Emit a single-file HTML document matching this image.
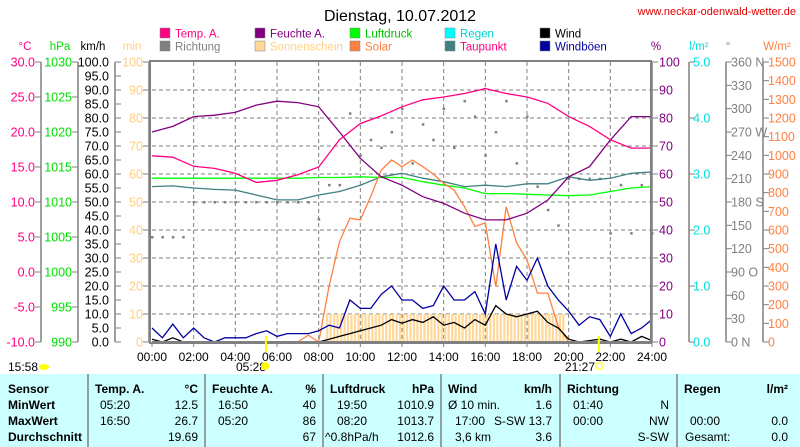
<!DOCTYPE html>
<html><head><meta charset="utf-8"><style>
body{margin:0;background:#fff;width:800px;height:447px;overflow:hidden;font-family:"Liberation Sans",sans-serif}
svg{position:absolute;left:0;top:0}
</style></head><body>
<svg id="c" width="800" height="447" xmlns="http://www.w3.org/2000/svg" font-family="Liberation Sans, sans-serif">
<text x="400" y="21" font-size="16" text-anchor="middle">Dienstag, 10.07.2012</text>
<text x="796" y="15" font-size="11" fill="#e00000" text-anchor="end">www.neckar-odenwald-wetter.de</text>
<rect x="0" y="374" width="800" height="73" fill="#ccffff"/>
<g id="grid"></g><g id="series"></g><g id="axes"></g><g id="legend"></g><g id="table" font-size="12"></g>
</svg>
<script>
// ---- data (hourly unless noted) ----
const hours = [0,1,2,3,4,5,6,7,8,9,10,11,12,13,14,15,16,17,18,19,20,21,22,23,24];
const tempA = [16.6,16.4,15.1,14.8,14.1,12.8,13.1,13.9,15.0,18.9,21.2,22.3,23.6,24.6,25.0,25.5,26.2,25.5,25.0,24.1,22.2,20.8,18.9,17.7,17.7];
const humidity = [75,77,80.5,81,82,84.6,86,85.5,84,75,65.6,59,56,51.9,49.5,46,43.6,43.6,46,50.7,59,62.6,72.1,80.5,80.5];
const pressure = [1013.4,1013.4,1013.4,1013.4,1013.4,1013.4,1013.4,1013.4,1013.5,1013.5,1013.6,1013.5,1013.5,1012.9,1012.4,1012.0,1011.2,1011.2,1011.1,1011.0,1010.9,1011.0,1011.5,1012.0,1012.2];
const dewpoint = [12.2,12.3,12.0,11.8,11.7,11.0,10.3,10.3,11.0,11.5,12.4,13.6,14.1,13.4,12.9,12.2,12.4,12.2,12.6,12.6,13.6,13.1,13.4,14.1,14.3];
// half-hour series
const halfHours = [0,0.5,1,1.5,2,2.5,3,3.5,4,4.5,5,5.5,6,6.5,7,7.5,8,8.5,9,9.5,10,10.5,11,11.5,12,12.5,13,13.5,14,14.5,15,15.5,16,16.5,17,17.5,18,18.5,19,19.5,20,20.5,21,21.5,22,22.5,23,23.5,24];
const solar = [0,0,0,0,0,0,0,0,0,0,0,0,0,0,0,37,0,300,537,663,654,780,921,975,939,975,939,900,850,814,725,618,638,296,725,531,440,262,262,82,0,0,0,0,0,0,0,0,0];
const gusts = [5,1.5,6.4,1.5,5,1.5,0,1.5,1.5,1.5,3,4,2,3,3,3,4,6,5,15,12,12,17,20,15,15,12,13,20,15,15,18,10,35,15,27,22,30,20,15,11,6,9,8,2,10,3,5,8];
const wind = [1,0,1.5,0,0,0,0,0,0,0,0,0,0,0,0,0,0,1,2,3,4,5,6,8,6.7,8,7,9,6,7,5,8,6,13,10,9,10,11,7,5,1,0,0.5,1,0,1,0,2,0.5];
const direction = [135,135,135,135,180,180,180,180,180,180,180,180,180,180,180,180,158,202,202,294,240,260,250,270,300,230,280,260,300,250,310,290,240,270,310,230,290,200,170,150,210,210,210,210,140,202,140,202,140];
// sunshine minutes per 10-min interval (144 intervals)
const sunshine = [0,0,0,0,0,0,0,0,0,0,0,0,0,0,0,0,0,0,0,0,0,0,0,0,0,0,0,0,0,0,0,0,0,0,0,0,0,0,0,0,0,0,0,0,0,0,0,0,0,0,10,10,10,10,10,10,10,10,10,10,10,10,10,10,10,10,10,10,10,10,10,10,10,10,10,10,10,10,10,10,10,10,10,10,10,10,10,10,10,10,10,10,10,10,10,10,10,10,10,10,10,10,10,10,10,10,10,10,10,10,10,10,10,10,10,10,10,10,10,0,0,0,0,0,0,0,0,0,0,0,0,0,0,0,0,0,0,0,0,0,0,0,0,0];
// ---- axes ----
const X0=152,X1=652,YB=342,YT=62;
const xh=h=>X0+h*(X1-X0)/24;
const yPct=v=>YB-v*(YB-YT)/100;
const yTemp=t=>yPct((t+10)/40*100);
const yHpa=p=>yPct((p-990)/40*100);
const yKmh=v=>yPct(v);
const ySolar=w=>yPct(w/15);
const yDeg=d=>yPct(d/3.6);
const yMin=m=>yPct(m);
const NS='http://www.w3.org/2000/svg';
function mk(parent,tag,attrs,text){const e=document.createElementNS(NS,tag);for(const k in attrs)e.setAttribute(k,attrs[k]);if(text!==undefined)e.textContent=text;parent.appendChild(e);return e;}
const G=id=>document.getElementById(id);
// grid
const grid=G('grid');
for(let h=2;h<24;h+=2){const l=mk(grid,'line',{x1:xh(h),x2:xh(h),y1:YT,y2:YB,stroke:'#808080','stroke-dasharray':'4,3'});

}
for(let v=10;v<100;v+=10){const l=mk(grid,'line',{x1:X0,x2:X1,y1:yPct(v),y2:yPct(v),stroke:'#808080','stroke-dasharray':'4,3'});

}
// series
const S=G('series');
sunshine.forEach((m,i)=>{if(m>0){const r=mk(S,'rect',{x:xh(i/6)+0.5,y:yMin(m),width:2.2,height:YB-yMin(m),fill:'#ffd89a'});

}});
direction.forEach((d,i)=>{const r=mk(S,'rect',{x:xh(halfHours[i])-1,y:yDeg(d)-1,width:2.5,height:2.5,fill:'#808080'});

});
function line(xs,vals,yf,color,name){const p=vals.map((v,i)=>xh(xs[i]).toFixed(1)+','+yf(v).toFixed(1)).join(' ');
const e=mk(S,'polyline',{points:p,fill:'none',stroke:color,'stroke-width':1.3});

}
line(hours,dewpoint,yTemp,'#408080','dewpoint-line');
line(hours,pressure,yHpa,'#00ff00','pressure-line');
line(halfHours,solar,ySolar,'#ff8040','solar-line');
line(hours,humidity,yPct,'#800080','humidity-line');
line(hours,tempA,yTemp,'#ff0080','temperature-line');
line(halfHours,gusts,yKmh,'#0000a0','gusts-line');
line(halfHours,wind,yKmh,'#000000','wind-line');
// frame
const A=G('axes');
mk(A,'rect',{x:150,y:61,width:501,height:282,fill:'none',stroke:'#808080','stroke-width':2});
mk(A,'line',{x1:X0,x2:X1,y1:YB,y2:YB,stroke:'#808080','stroke-width':2});
[[xh(5.47),'sunrise-tick'],[xh(21.45),'sunset-tick']].forEach(([x,n])=>{const l=mk(A,'line',{x1:x,x2:x,y1:336,y2:352,stroke:'#ffff00','stroke-width':2});

});
// x tick labels
const xTicks=['00:00','02:00','04:00','06:00','08:00','10:00','12:00','14:00','16:00','18:00','20:00','22:00','24:00'];
xTicks.forEach((t,i)=>{mk(A,'line',{x1:xh(i*2),x2:xh(i*2),y1:YB,y2:YB+5,stroke:'#808080'});
const e=mk(A,'text',{x:xh(i*2),y:361,'font-size':12,'text-anchor':'middle'},t);

});
// vertical axes
function vaxis(ax,ticks,yf,fmt,color,labelX,anchor,tickDir,unit,unitX,name){
 mk(A,'line',{x1:ax,x2:ax,y1:YT,y2:YB,stroke:'#808080','stroke-width':1.5});
 ticks.forEach(v=>{const y=yf(v);mk(A,'line',{x1:ax,x2:ax+tickDir*6,y1:y,y2:y,stroke:'#808080'});
 const e=mk(A,'text',{x:labelX,y:y+4.5,'font-size':12.5,fill:color,'text-anchor':anchor},fmt(v));
 
 });
 const u=mk(A,'text',{x:unitX,y:50,'font-size':11.5,fill:color,'text-anchor':'middle'},unit);
 
 }
const tempTicks=[-10,-5,0,5,10,15,20,25,30];
const hpaTicks=[990,995,1000,1005,1010,1015,1020,1025,1030];
const kmhTicks=[];for(let v=0;v<=100;v+=5)kmhTicks.push(v);
const minTicks=[0,10,20,30,40,50,60,70,80,90,100];
const pctTicks=[0,10,20,30,40,50,60,70,80,90,100];
const rainTicks=[0,1,2,3,4,5];
const degTicks=[0,30,60,90,120,150,180,210,240,270,300,330,360];
const degNames={0:' N',90:' O',180:' S',270:' W',360:' N'};
const solarTicks=[];for(let v=0;v<=1500;v+=100)solarTicks.push(v);
vaxis(41,tempTicks,yTemp,v=>v.toFixed(1),'#ff0080',35,'end',-1,'°C',25,'temperature-axis');
vaxis(78,hpaTicks,yHpa,v=>String(v),'#00e000',72,'end',-1,'hPa',60,'pressure-axis');
vaxis(115,kmhTicks,yKmh,v=>v.toFixed(1),'#000',109,'end',1,'km/h',93,'wind-axis');
vaxis(149,minTicks,yMin,v=>String(v),'#ffd080',143,'end',-1,'min',132,'sunshine-axis');
vaxis(652,pctTicks,yPct,v=>String(v),'#800080',659,'start',1,'%',656,'humidity-axis');
vaxis(689,rainTicks,v=>yPct(v*20),v=>v.toFixed(1),'#00e0e0',693,'start',1,'l/m²',699,'rain-axis');
vaxis(726,degTicks,yDeg,v=>v+(degNames[v]||''),'#808080',731,'start',1,'°',728,'direction-axis');
vaxis(763,solarTicks,ySolar,v=>String(v),'#ff8040',768,'start',1,'W/m²',777,'solar-axis');
// sun times
[['15:58',8,371,'sunshine-duration'],['05:28',236,371,'sunrise-time'],['21:27',565,371,'sunset-time']].forEach(([t,x,y,n])=>{const e=mk(A,'text',{x:x,y:y,'font-size':12},t);

});
mk(A,'ellipse',{cx:44,cy:367,rx:5,ry:3,fill:'#ffff00'});
mk(A,'circle',{cx:265,cy:366,r:4,fill:'#ffff00'});
mk(A,'rect',{x:596,y:363,width:6,height:6,fill:'none',stroke:'#ffff00'});
// legend
const L=G('legend');
const legendItems=[['Temp. A.','#ff0080','#ff0080',160,37],['Richtung','#808080','#808080',160,50],['Feuchte A.','#800080','#800080',255,37],['Sonnenschein','#ffd89a','#ffd089',255,50],['Luftdruck','#00ff00','#00c000',350,37],['Solar','#ff8040','#ff8040',350,50],['Regen','#00ffff','#00d0d0',445,37],['Taupunkt','#408080','#ff0080',445,50],['Wind','#000','#000',540,37],['Windböen','#0000a0','#0000a0',540,50]];
legendItems.forEach(([t,sw,tc,x,y])=>{const g=mk(L,'g',{});


mk(g,'rect',{x:x,y:y-9,width:10,height:10,fill:sw,stroke:'#808080','stroke-width':0.5});
mk(g,'text',{x:x+15,y:y+0.5,'font-size':11.5,fill:tc},t);});
// table
const T=G('table');
[88,205,323,441,560,677].forEach(x=>mk(T,'line',{x1:x,x2:x,y1:374,y2:447,stroke:'#808080','stroke-width':1.5}));
const cells=[
['Sensor',8,393,1,0],['Temp. A.',95,393,1,0],['°C',198,393,1,1],['Feuchte A.',212,393,1,0],['%',316,393,1,1],['Luftdruck',330,393,1,0],['hPa',434,393,1,1],['Wind',448,393,1,0],['km/h',552,393,1,1],['Richtung',567,393,1,0],['Regen',684,393,1,0],['l/m²',788,393,1,1],
['MinWert',8,409,1,0],['05:20',100,409,0,0],['12.5',198,409,0,1],['16:50',218,409,0,0],['40',316,409,0,1],['19:50',337,409,0,0],['1010.9',434,409,0,1],['Ø 10 min.',448,409,0,0],['1.6',552,409,0,1],['01:40',573,409,0,0],['N',669,409,0,1],
['MaxWert',8,425,1,0],['16:50',100,425,0,0],['26.7',198,425,0,1],['05:20',218,425,0,0],['86',316,425,0,1],['08:20',337,425,0,0],['1013.7',434,425,0,1],['17:00',455,425,0,0],['S-SW 13.7',552,425,0,1],['00:00',573,425,0,0],['NW',669,425,0,1],['00:00',690,425,0,0],['0.0',788,425,0,1],
['Durchschnitt',8,441,1,0],['19.69',198,441,0,1],['67',316,441,0,1],['^0.8hPa/h',325,441,0,0],['1012.6',434,441,0,1],['3,6 km',455,441,0,0],['3.6',552,441,0,1],['S-SW',669,441,0,1],['Gesamt:',685,441,0,0],['0.0',788,441,0,1]];
cells.forEach(([t,x,y,b,r])=>{const e=mk(T,'text',{x:x,y:y,'font-weight':b?'bold':'normal','text-anchor':r?'end':'start'},t);

});
</script>
</body></html>
